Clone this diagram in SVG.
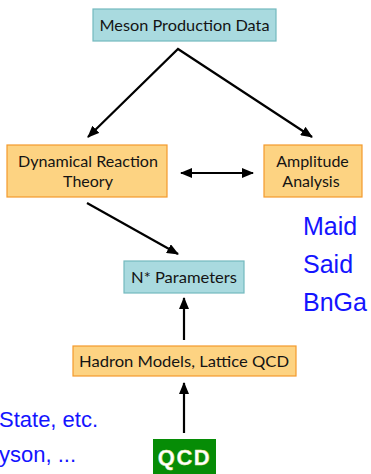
<svg xmlns="http://www.w3.org/2000/svg" width="371" height="474" viewBox="0 0 371 474">
<style>
.teal{fill:#a9dadf;stroke:#74b9be;stroke-width:1.2}
.orange{fill:#fdd382;stroke:#f39a2c;stroke-width:1.2}
.lbl{font-family:Lato,"Open Sans",sans-serif;font-size:16px;fill:#141414;text-anchor:middle}
.blue{font-family:"Liberation Sans",Arial,sans-serif;fill:#1414ff}
.conn{stroke:#000;stroke-width:2.2;fill:none}
</style>
<defs>
<marker id="ah" viewBox="0 0 12 10" refX="11" refY="5" markerWidth="12" markerHeight="10" markerUnits="userSpaceOnUse" orient="auto-start-reverse">
<path d="M0,0 L12,5 L0,10 Z" fill="#000"/>
</marker>
</defs>
<rect width="371" height="474" fill="#fff"/>
<g id="connectors">
<polyline class="conn" points="88,137 178,49 312,137" marker-start="url(#ah)" marker-end="url(#ah)"/>
<line class="conn" x1="181" y1="173" x2="253" y2="173" marker-start="url(#ah)" marker-end="url(#ah)"/>
<line class="conn" x1="87" y1="203" x2="178" y2="254" marker-end="url(#ah)"/>
<line class="conn" x1="184" y1="340" x2="184" y2="298" marker-end="url(#ah)"/>
<line class="conn" x1="184" y1="433" x2="184" y2="383" marker-end="url(#ah)"/>
</g>
<g id="meson">
<rect class="teal" x="93" y="9" width="183" height="32"/>
<text class="lbl" x="184.5" y="31" textLength="170" lengthAdjust="spacingAndGlyphs">Meson Production Data</text>
</g>
<g id="dynamical">
<rect class="orange" x="7" y="145" width="160" height="52"/>
<text class="lbl" x="88" y="167" textLength="140" lengthAdjust="spacingAndGlyphs">Dynamical Reaction</text>
<text class="lbl" x="88" y="187">Theory</text>
</g>
<g id="amplitude">
<rect class="orange" x="264" y="145" width="98" height="52"/>
<text class="lbl" x="312.5" y="167">Amplitude</text>
<text class="lbl" x="311" y="187">Analysis</text>
</g>
<g id="nstar">
<rect class="teal" x="124" y="261" width="120" height="32"/>
<text class="lbl" x="184" y="283" textLength="106" lengthAdjust="spacingAndGlyphs">N* Parameters</text>
</g>
<g id="hadron">
<rect class="orange" x="73" y="346" width="223" height="30"/>
<text class="lbl" x="184" y="367" textLength="210" lengthAdjust="spacingAndGlyphs">Hadron Models, Lattice QCD</text>
</g>
<g id="qcd">
<rect x="153" y="439" width="63" height="40" fill="#068c06"/>
<text x="184.5" y="465" font-family="'Liberation Sans',Arial,sans-serif" font-weight="bold" font-size="22" fill="#fff" stroke="#e8e8a0" stroke-width="0.4" text-anchor="middle" letter-spacing="1.5">QCD</text>
</g>
<g id="side-labels">
<text class="blue" x="303" y="235" font-size="25">Maid</text>
<text class="blue" x="303" y="273" font-size="25">Said</text>
<text class="blue" x="303" y="311" font-size="25">BnGa</text>
<text class="blue" x="-1" y="427" font-size="22">State, etc.</text>
<text class="blue" x="-1" y="462" font-size="22">yson, ...</text>
</g>
</svg>
